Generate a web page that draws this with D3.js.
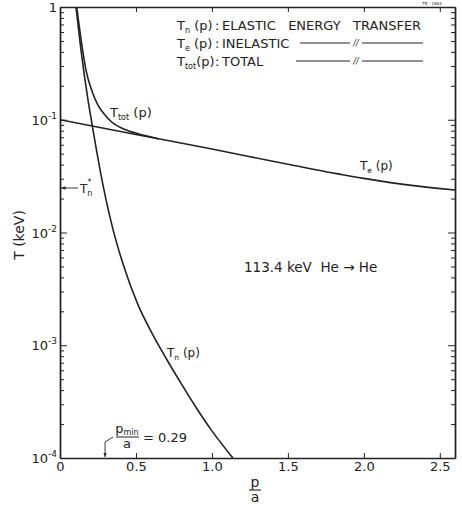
<!DOCTYPE html>
<html>
<head>
<meta charset="utf-8">
<script src="https://cdn.jsdelivr.net/npm/d3@7"></script>
<style>
  body { margin: 0; background: #fff; }
  text { font-family: "DejaVu Sans", sans-serif; fill: #222; white-space: pre; }
</style>
</head>
<body>
<div id="chart"></div>
<script>
// elastic energy transfer Tn(p)
const pElastic = [0.105, 0.138, 0.184, 0.211, 0.237, 0.263, 0.30, 0.35, 0.415, 0.513, 0.6, 0.7, 0.8, 0.9, 1.0, 1.138];
const tElastic = [1.0, 0.417, 0.151, 0.0912, 0.0569, 0.0363, 0.0204, 0.0105, 0.00525, 0.00229,
    0.00132, 0.000759, 0.000452, 0.000275, 0.000174, 0.0001];

// inelastic Te(p)
const pInelastic = [0, 0.5, 1.0, 1.5, 2.0, 2.3, 2.6];
const tInelastic = [0.1, 0.0741, 0.055, 0.0403, 0.0302, 0.0263, 0.0238];

// total Ttot(p)
const pTotal = [0.11, 0.145, 0.17, 0.217, 0.25, 0.296, 0.342, 0.428, 0.513, 0.6, 0.65];
const tTotal = [1.0, 0.45, 0.28, 0.17, 0.135, 0.11, 0.095, 0.082, 0.0752, 0.0702, 0.0675];

const xTicks = [0, 0.5, 1.0, 1.5, 2.0, 2.5];
const xTickLabels = ["0", "0.5", "1.0", "1.5", "2.0", "2.5"];
const yDecades = [1, 0.1, 0.01, 0.001, 0.0001];
const yExponents = ["", "-1", "-2", "-3", "-4"];

const pMin = 0.29;
const tnStar = 0.0248;

const W = 462, H = 508;
const margin = { top: 7, right: 7, bottom: 50, left: 60 };

const svg = d3.select("#chart").append("svg")
    .attr("width", W)
    .attr("height", H);

const x = d3.scaleLinear().domain([0, 2.6]).range([margin.left, W - margin.right]);
const y = d3.scaleLog().domain([1e-4, 1]).range([H - margin.bottom, margin.top]);

const ink = "#222";

// minor log ticks
let minor = [];
yDecades.slice(1).forEach(d => {
    for (let k = 2; k <= 9; k++) minor.push(d * k);
});

function styleAxis(g) {
    g.select(".domain").attr("stroke", ink).attr("stroke-width", 1.4);
    g.selectAll(".tick line").attr("stroke", ink).attr("stroke-width", 1);
}

// left axis
svg.append("g")
    .attr("transform", `translate(${margin.left},0)`)
    .call(d3.axisLeft(y).tickValues(minor).tickSize(-4).tickFormat("").tickSizeOuter(0))
    .call(styleAxis);
svg.append("g")
    .attr("transform", `translate(${margin.left},0)`)
    .call(d3.axisLeft(y).tickValues(yDecades).tickSize(-7).tickFormat("").tickSizeOuter(0))
    .call(styleAxis);

// right axis
svg.append("g")
    .attr("transform", `translate(${W - margin.right},0)`)
    .call(d3.axisRight(y).tickValues(minor).tickSize(-4).tickFormat("").tickSizeOuter(0))
    .call(styleAxis);
svg.append("g")
    .attr("transform", `translate(${W - margin.right},0)`)
    .call(d3.axisRight(y).tickValues(yDecades).tickSize(-7).tickFormat("").tickSizeOuter(0))
    .call(styleAxis);

// bottom axis
svg.append("g")
    .attr("transform", `translate(0,${H - margin.bottom})`)
    .call(d3.axisBottom(x).tickValues(xTicks).tickSize(-5).tickPadding(4).tickSizeOuter(0)
        .tickFormat((d, i) => xTickLabels[i]))
    .call(styleAxis)
    .call(g => g.selectAll(".tick text").attr("font-size", 13).attr("fill", ink)
        .attr("font-family", "DejaVu Sans"));

// top axis
svg.append("g")
    .attr("transform", `translate(0,${margin.top})`)
    .call(d3.axisTop(x).tickValues(xTicks.slice(1)).tickSize(-5).tickFormat("").tickSizeOuter(0))
    .call(styleAxis);

// y labels with superscripts
const yLab = svg.append("g");
yDecades.forEach((d, i) => {
    const t = yLab.append("text")
        .attr("x", margin.left - 3)
        .attr("y", y(d) + 5)
        .attr("text-anchor", "end")
        .attr("font-size", 13);
    if (yExponents[i] === "") {
        t.text("1");
    } else {
        t.append("tspan").text("10");
        t.append("tspan").attr("font-size", 9).attr("dy", -6).text(yExponents[i]);
    }
});

// clip
svg.append("clipPath").attr("id", "plot")
    .append("rect")
    .attr("x", margin.left).attr("y", margin.top)
    .attr("width", W - margin.left - margin.right)
    .attr("height", H - margin.top - margin.bottom);

const line = d3.line()
    .x(d => x(d[0]))
    .y(d => y(d[1]))
    .curve(d3.curveMonotoneX);

const series = [
    d3.zip(pElastic, tElastic),
    d3.zip(pInelastic, tInelastic),
    d3.zip(pTotal, tTotal)
];

svg.append("g").attr("clip-path", "url(#plot)")
    .selectAll("path")
    .data(series)
    .enter().append("path")
    .attr("d", line)
    .attr("fill", "none")
    .attr("stroke", ink)
    .attr("stroke-width", 1.6);

// helper for T with subscript
function tLabel(sel, sub, rest, size) {
    sel.append("tspan").text("T");
    sel.append("tspan").attr("font-size", size * 0.62).attr("dy", 3).text(sub);
    sel.append("tspan").attr("dy", -3).text(rest);
}

// curve labels
tLabel(svg.append("text").attr("x", 110).attr("y", 117).attr("font-size", 13), "tot", " (p)", 13);
tLabel(svg.append("text").attr("x", 360).attr("y", 170).attr("font-size", 12), "e", " (p)", 12);
tLabel(svg.append("text").attr("x", 167).attr("y", 357).attr("font-size", 12), "n", " (p)", 12);

// legend
const leg = svg.append("g").attr("font-size", 13);
const legRows = [
    { sub: "n", rest: " (p)", word: "ELASTIC   ENERGY   TRANSFER", y: 30 },
    { sub: "e", rest: " (p)", word: "INELASTIC", y: 48 },
    { sub: "tot", rest: "(p)", word: "TOTAL", y: 66 }
];
legRows.forEach(r => {
    tLabel(leg.append("text").attr("x", 177).attr("y", r.y), r.sub, r.rest, 13);
    leg.append("text").attr("x", 215).attr("y", r.y).text(":");
    leg.append("text").attr("x", 222).attr("y", r.y).text(r.word);
});

[[300, 43], [296, 61]].forEach(([x0, yy]) => {
    leg.append("line").attr("x1", x0).attr("x2", 350).attr("y1", yy).attr("y2", yy)
        .attr("stroke", ink).attr("stroke-width", 1.1);
    leg.append("line").attr("x1", 362).attr("x2", 423).attr("y1", yy).attr("y2", yy)
        .attr("stroke", ink).attr("stroke-width", 1.1);
    leg.append("text").attr("x", 356).attr("y", yy + 3).attr("text-anchor", "middle")
        .attr("font-size", 8).attr("font-style", "italic").text("//");
});

// figure number
svg.append("text").attr("x", 432).attr("y", 5).attr("text-anchor", "middle")
    .attr("font-size", 4).text("TR - 1884");

// energy label
svg.append("text").attr("x", 244).attr("y", 272).attr("font-size", 13.5)
    .text("113.4 keV  He \u2192 He");

// axis titles
svg.append("text")
    .attr("transform", `translate(24,235) rotate(-90)`)
    .attr("text-anchor", "middle")
    .attr("font-size", 14)
    .text("T (keV)");

const xt = svg.append("g").attr("font-size", 14).attr("text-anchor", "middle");
xt.append("text").attr("x", 255).attr("y", 487).text("p");
xt.append("line").attr("x1", 249).attr("x2", 261).attr("y1", 490).attr("y2", 490)
    .attr("stroke", ink).attr("stroke-width", 1.1);
xt.append("text").attr("x", 255).attr("y", 502).text("a");

// arrowhead markers
const defs = svg.append("defs");
defs.append("marker").attr("id", "arr")
    .attr("viewBox", "0 0 10 10").attr("refX", 10).attr("refY", 5)
    .attr("markerWidth", 5).attr("markerHeight", 5).attr("orient", "auto")
    .append("path").attr("d", "M0,1L10,5L0,9Z").attr("fill", ink);

// Tn* arrow
svg.append("line")
    .attr("x1", x(0) + 18).attr("x2", x(0) + 1)
    .attr("y1", y(tnStar)).attr("y2", y(tnStar))
    .attr("stroke", ink).attr("stroke-width", 0.9)
    .attr("marker-end", "url(#arr)");
const ts = svg.append("text").attr("x", x(0) + 20).attr("y", y(tnStar) + 5).attr("font-size", 12);
ts.append("tspan").text("T");
ts.append("tspan").attr("font-size", 8).attr("dy", 3).text("n");
ts.append("tspan").attr("font-size", 8).attr("dy", -11).attr("dx", -5).text("*");

// p_min arrow
const yb = y(1e-4);
svg.append("path")
    .attr("d", `M${x(pMin) + 9},${yb - 21}L${x(pMin) + 1},${yb - 16}L${x(pMin) + 1},${yb - 1}`)
    .attr("fill", "none").attr("stroke", ink).attr("stroke-width", 0.9)
    .attr("marker-end", "url(#arr)");
const pm = svg.append("g").attr("font-size", 13);
const pt = pm.append("text").attr("x", 127).attr("y", 433).attr("text-anchor", "middle");
pt.append("tspan").text("p");
pt.append("tspan").attr("font-size", 8).attr("dy", 2).text("min");
pm.append("line").attr("x1", 116).attr("x2", 139).attr("y1", 437).attr("y2", 437)
    .attr("stroke", ink).attr("stroke-width", 1);
pm.append("text").attr("x", 127).attr("y", 448).attr("text-anchor", "middle").text("a");
pm.append("text").attr("x", 143).attr("y", 442).text("= 0.29");
</script>
</body>
</html>
